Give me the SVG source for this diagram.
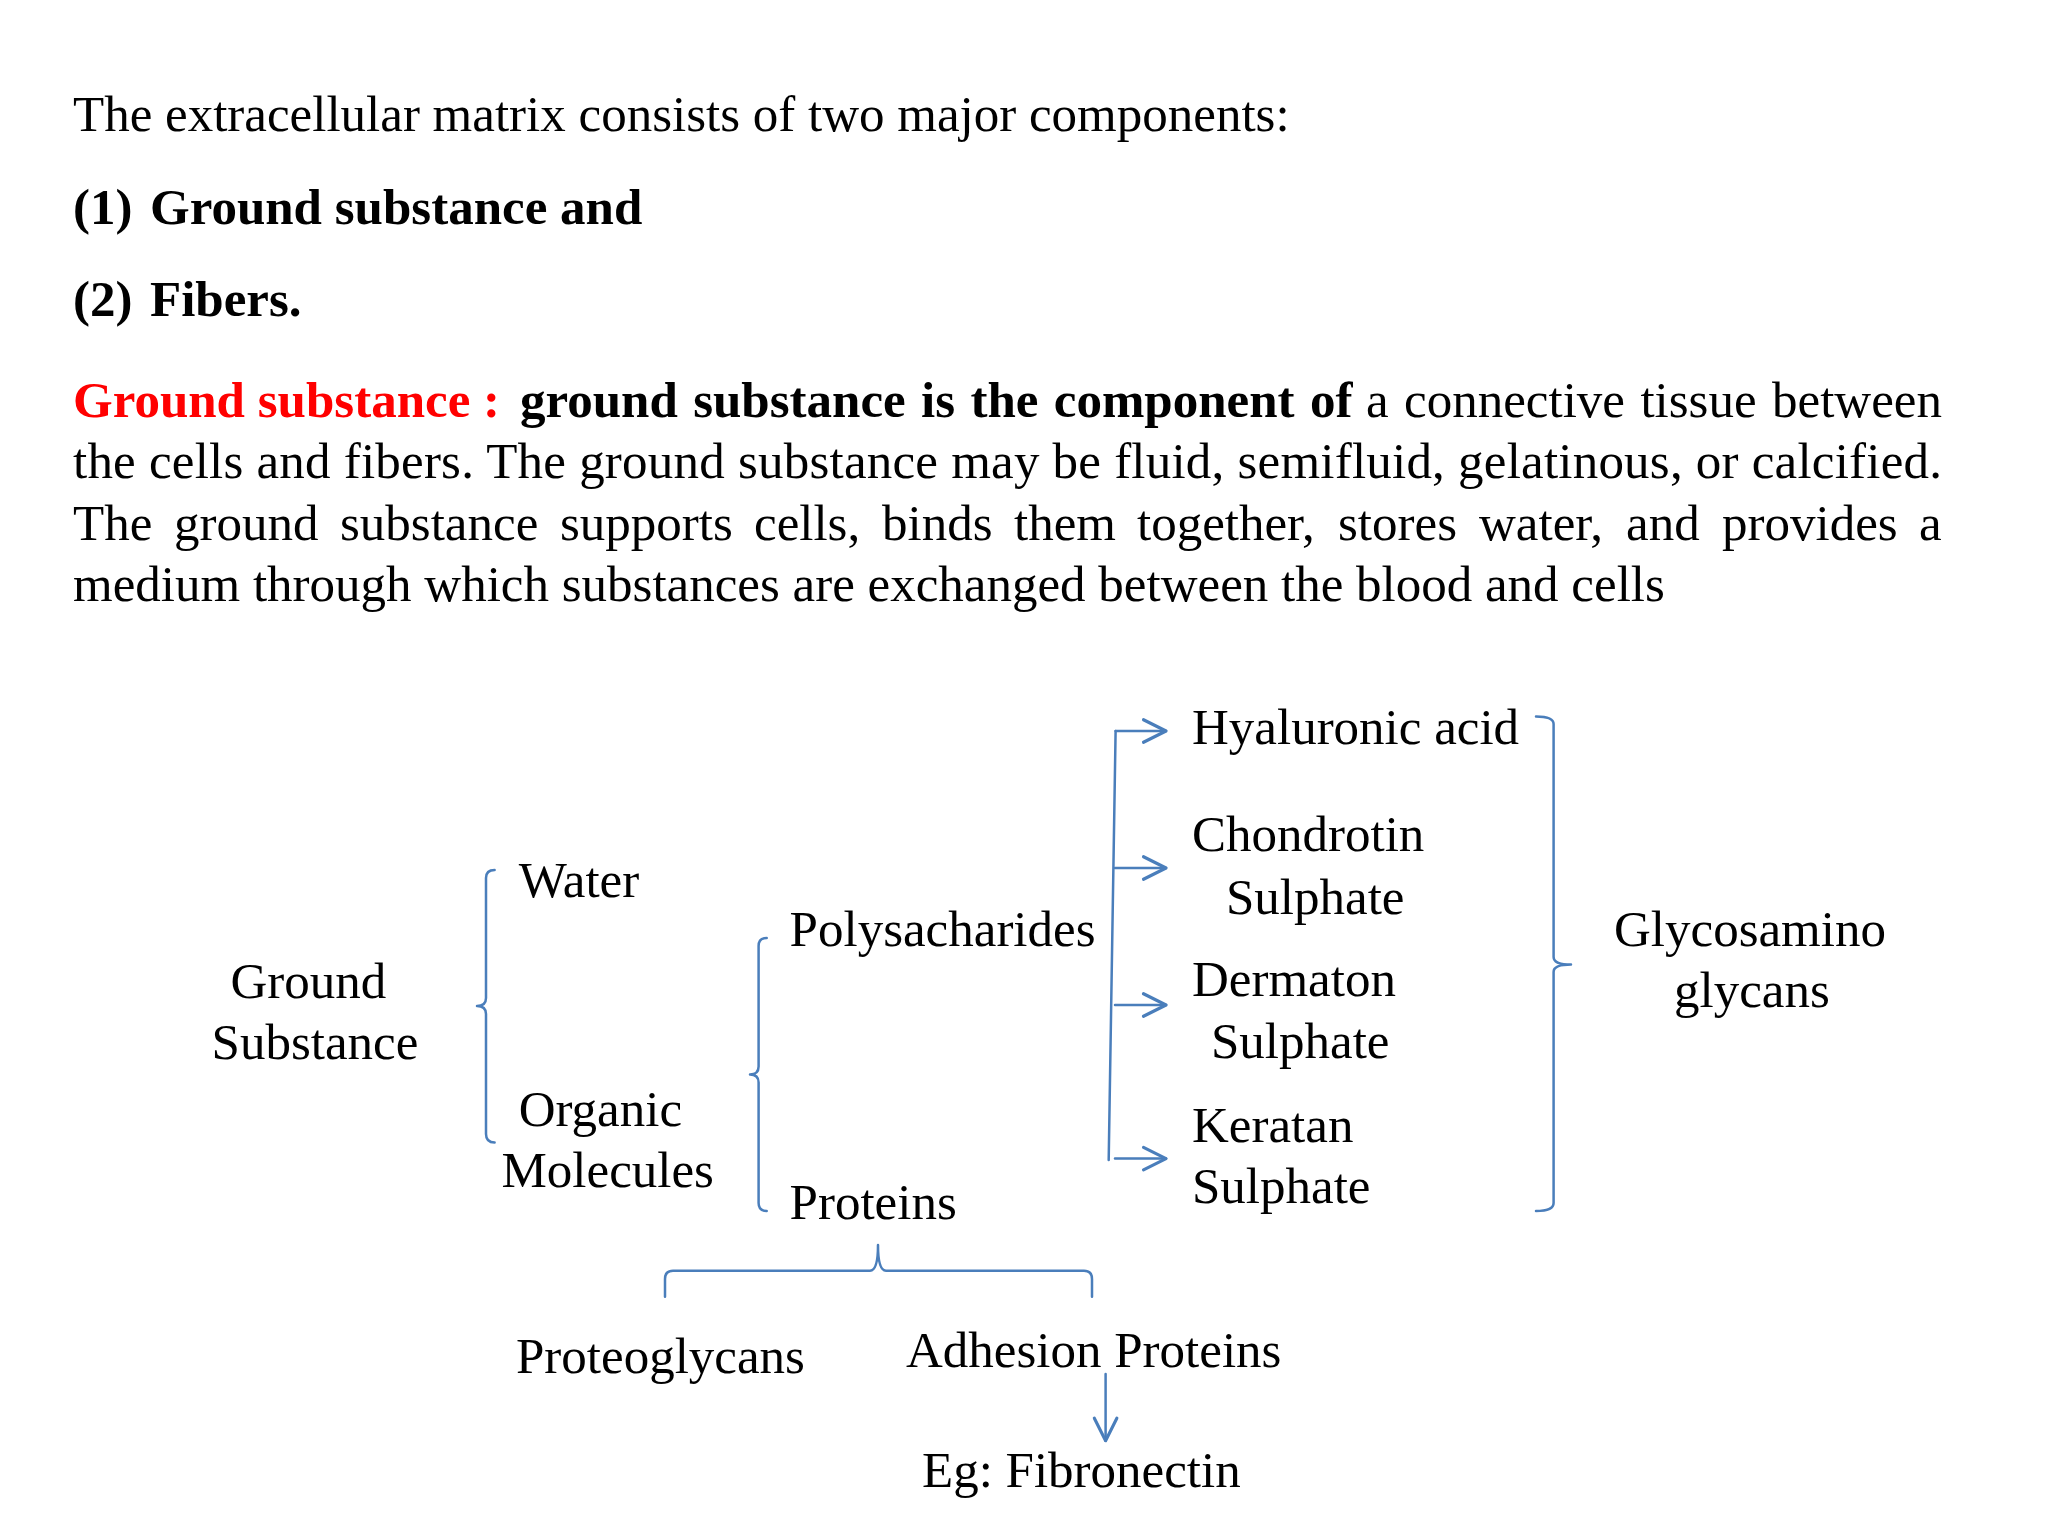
<svg xmlns="http://www.w3.org/2000/svg" width="2048" height="1536" viewBox="0 0 2048 1536">
<defs>
<style>
text{font-family:"Liberation Serif","Times New Roman",serif;font-size:51px;fill:#000}
.b{font-weight:bold}
.red{fill:#FF0000;font-weight:bold}
.ln{fill:none;stroke:#4A7EBB;stroke-width:2.5;stroke-linejoin:round;stroke-linecap:round}
</style>
<marker id="ah" markerUnits="userSpaceOnUse" markerWidth="30" markerHeight="30" viewBox="-20 -12 24 24" refX="0" refY="0" orient="auto">
<path d="M-18,-9 L0,0 L-18,9" fill="none" stroke="#4A7EBB" stroke-width="2.5" stroke-linecap="round" stroke-linejoin="round"/>
</marker>
</defs>
<rect width="2048" height="1536" fill="#fff"/>
<g id="intro">
<text x="73" y="131">The extracellular matrix consists of two major components:</text>
<text class="b" y="224"><tspan x="73">(1)</tspan><tspan x="150">Ground substance and</tspan></text>
<text class="b" y="316"><tspan x="73">(2)</tspan><tspan x="150">Fibers.</tspan></text>
</g>
<g id="paragraph">
<text y="417"><tspan class="red" x="73">Ground substance :</tspan><tspan class="b" x="520" word-spacing="2.6">ground substance is the component of</tspan><tspan x="1366" word-spacing="2.7">a connective tissue between</tspan></text>
<text x="73" y="478" textLength="1869" lengthAdjust="spacing">the cells and fibers. The ground substance may be fluid, semifluid, gelatinous, or calcified.</text>
<text y="540"><tspan x="73">The</tspan><tspan x="174">ground</tspan><tspan x="340">substance</tspan><tspan x="560">supports</tspan><tspan x="754">cells,</tspan><tspan x="882">binds</tspan><tspan x="1014">them</tspan><tspan x="1137">together,</tspan><tspan x="1338">stores</tspan><tspan x="1479">water,</tspan><tspan x="1626">and</tspan><tspan x="1722">provides</tspan><tspan x="1919">a</tspan></text>
<text x="73" y="601">medium through which substances are exchanged between the blood and cells</text>
</g>
<g id="connectors">
<path class="ln" d="M494.6,870 Q486,870 486,878 L486,998 Q486,1006 477,1006 Q486,1006 486,1014 L486,1134 Q486,1142.5 494.6,1142.5"/>
<path class="ln" d="M766.7,938 Q758.6,938 758.6,946 L758.6,1066.6 Q758.6,1074.6 750,1074.6 Q758.6,1074.6 758.6,1082.6 L758.6,1203 Q758.6,1211 766.7,1211"/>
<path class="ln" d="M1536,716.4 Q1553.6,716.4 1553.6,724 L1553.6,957 Q1553.6,964.6 1571,964.6 Q1553.6,964.6 1553.6,972 L1553.6,1203 Q1553.6,1211 1536,1211"/>
<path class="ln" d="M665,1296.7 L665,1279 Q665,1270.7 673,1270.7 L870,1270.7 Q878,1270.7 878,1245 Q878,1270.7 886,1270.7 L1084,1270.7 Q1092,1270.7 1092,1279 L1092,1296.7"/>
<path class="ln" d="M1115.6,731 L1108.7,1160"/>
<line class="ln" x1="1115.6" y1="731" x2="1166" y2="731" marker-end="url(#ah)"/>
<line class="ln" x1="1115" y1="868" x2="1166" y2="868" marker-end="url(#ah)"/>
<line class="ln" x1="1115" y1="1005" x2="1166" y2="1005" marker-end="url(#ah)"/>
<line class="ln" x1="1115" y1="1158.6" x2="1166" y2="1158.6" marker-end="url(#ah)"/>
<line class="ln" x1="1105.6" y1="1374" x2="1105.6" y2="1440.7" marker-end="url(#ah)"/>
</g>
<g id="ground-substance"><text x="230.5" y="998">Ground</text><text x="211.6" y="1059">Substance</text></g>
<g id="water"><text x="518.7" y="897">Water</text></g>
<g id="organic-molecules"><text x="518.7" y="1126">Organic</text><text x="501.5" y="1187">Molecules</text></g>
<g id="polysacharides"><text x="789.6" y="946">Polysacharides</text></g>
<g id="proteins"><text x="789.6" y="1219">Proteins</text></g>
<g id="hyaluronic-acid"><text x="1192" y="743.6">Hyaluronic acid</text></g>
<g id="chondrotin-sulphate"><text x="1192" y="851">Chondrotin</text><text x="1226" y="914">Sulphate</text></g>
<g id="dermaton-sulphate"><text x="1192" y="996">Dermaton</text><text x="1211" y="1058">Sulphate</text></g>
<g id="keratan-sulphate"><text x="1192" y="1142">Keratan</text><text x="1192" y="1203">Sulphate</text></g>
<g id="glycosaminoglycans"><text x="1614" y="946">Glycosamino</text><text x="1674" y="1007">glycans</text></g>
<g id="proteoglycans"><text x="516" y="1373">Proteoglycans</text></g>
<g id="adhesion-proteins"><text x="906" y="1366.7">Adhesion Proteins</text></g>
<g id="fibronectin"><text x="922" y="1486.7">Eg: Fibronectin</text></g>
</svg>
